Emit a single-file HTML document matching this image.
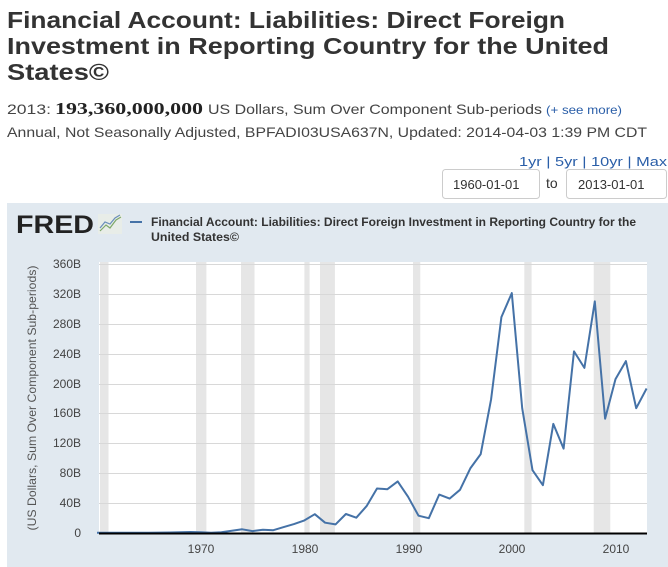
<!DOCTYPE html>
<html><head><meta charset="utf-8"><style>
html,body{margin:0;padding:0;background:#fff;width:668px;height:567px;overflow:hidden}
text{font-family:"Liberation Sans",sans-serif}
</style></head><body>
<svg width="668" height="567" xmlns="http://www.w3.org/2000/svg">
<g fill="#333" font-weight="bold" font-size="23">
<text x="7" y="28" textLength="558" lengthAdjust="spacingAndGlyphs">Financial Account: Liabilities: Direct Foreign</text>
<text x="7" y="54" textLength="602" lengthAdjust="spacingAndGlyphs">Investment in Reporting Country for the United</text>
<text x="7" y="80" textLength="102" lengthAdjust="spacingAndGlyphs">States©</text>
</g>
<text x="7" y="114" font-size="14" fill="#444" textLength="44" lengthAdjust="spacingAndGlyphs">2013:</text>
<text x="55" y="114" font-size="17" font-weight="bold" fill="#222" font-family="Liberation Serif" style="font-family:'Liberation Serif',serif" textLength="148" lengthAdjust="spacingAndGlyphs">193,360,000,000</text>
<text x="208" y="114" font-size="14" fill="#444" textLength="334" lengthAdjust="spacingAndGlyphs">US Dollars, Sum Over Component Sub-periods</text>
<text x="546" y="114" font-size="12" fill="#2a5ea8" textLength="76" lengthAdjust="spacingAndGlyphs">(+ see more)</text>
<text x="7" y="137" font-size="14" fill="#444" textLength="640" lengthAdjust="spacingAndGlyphs">Annual, Not Seasonally Adjusted, BPFADI03USA637N, Updated: 2014-04-03 1:39 PM CDT</text>
<text x="519" y="166" font-size="13" fill="#2a5ea8" textLength="148" lengthAdjust="spacingAndGlyphs">1yr | 5yr | 10yr | Max</text>
<rect x="442.5" y="169.5" width="97" height="29" rx="3" fill="#fff" stroke="#ccc"/>
<text x="453" y="189" font-size="13" fill="#333">1960-01-01</text>
<text x="546" y="188" font-size="14" fill="#333">to</text>
<rect x="566.5" y="169.5" width="100" height="29" rx="3" fill="#fff" stroke="#ccc"/>
<text x="578" y="189" font-size="13" fill="#333">2013-01-01</text>
<rect x="7" y="203" width="661" height="364" fill="#e1e9f0"/>
<text x="16" y="233" font-size="25" font-weight="900" fill="#222" textLength="78" lengthAdjust="spacingAndGlyphs">FRED</text>
<rect x="98" y="214" width="24" height="20" fill="#e8ede8"/>
<polyline points="100,231 106,225 110,228 116,220 121,217" fill="none" stroke="#7ea86a" stroke-width="1.2"/>
<polyline points="100,228 105,222 110,224 115,218 120,215" fill="none" stroke="#6a8fba" stroke-width="1.2"/>
<line x1="130" y1="222" x2="142" y2="222" stroke="#4572a7" stroke-width="2"/>
<text x="151" y="226" font-size="12" fill="#333" font-weight="bold" textLength="485" lengthAdjust="spacingAndGlyphs">Financial Account: Liabilities: Direct Foreign Investment in Reporting Country for the</text>
<text x="151" y="241" font-size="12" fill="#333" font-weight="bold" textLength="88" lengthAdjust="spacingAndGlyphs">United States©</text>
<rect x="99" y="262" width="548" height="271" fill="#fff"/>
<g fill="#e6e6e6">
<rect x="100" y="262" width="8.5" height="271"/>
<rect x="196" y="262" width="10.4" height="271"/>
<rect x="241" y="262" width="13.5" height="271"/>
<rect x="304.4" y="262" width="5.2" height="271"/>
<rect x="320" y="262" width="14.9" height="271"/>
<rect x="413" y="262" width="7.3" height="271"/>
<rect x="524.3" y="262" width="7.3" height="271"/>
<rect x="593.7" y="262" width="16.6" height="271"/>
</g>
<g stroke="#d8d8d8" stroke-width="1">
<line x1="99" x2="647" y1="264.5" y2="264.5"/><line x1="99" x2="647" y1="294.5" y2="294.5"/>
<line x1="99" x2="647" y1="324.5" y2="324.5"/><line x1="99" x2="647" y1="354.5" y2="354.5"/>
<line x1="99" x2="647" y1="384.5" y2="384.5"/><line x1="99" x2="647" y1="413.5" y2="413.5"/>
<line x1="99" x2="647" y1="443.5" y2="443.5"/><line x1="99" x2="647" y1="473.5" y2="473.5"/>
<line x1="99" x2="647" y1="503.5" y2="503.5"/>
</g>
<g font-size="12" fill="#444" text-anchor="end">
<text x="81" y="268">360B</text><text x="81" y="298">320B</text><text x="81" y="328">280B</text>
<text x="81" y="358">240B</text><text x="81" y="388">200B</text><text x="81" y="417">160B</text>
<text x="81" y="447">120B</text><text x="81" y="477">80B</text><text x="81" y="507">40B</text>
<text x="81" y="537">0</text>
</g>
<text transform="translate(36,398) rotate(-90)" font-size="12" fill="#555" text-anchor="middle" textLength="265" lengthAdjust="spacingAndGlyphs">(US Dollars, Sum Over Component Sub-periods)</text>
<g font-size="12" fill="#444" text-anchor="middle">
<text x="201" y="553">1970</text><text x="305" y="553">1980</text><text x="409" y="553">1990</text>
<text x="512" y="553">2000</text><text x="616" y="553">2010</text>
</g>
<polyline fill="none" stroke="#4572a7" stroke-width="2" stroke-linejoin="round" points="97,532.8 107.4,532.8 117.7,532.8 128.1,532.8 138.5,532.8 148.9,532.7 159.2,532.6 169.6,532.5 180,532.3 190.3,532 200.7,532.2 211.1,532.8 221.4,532.3 231.8,530.8 242.2,529.3 252.6,531.1 262.9,529.8 273.3,530.2 283.7,527.1 294,524.1 304.4,520.4 314.8,514.2 325.1,522.7 335.5,524.4 345.9,514 356.3,517.7 366.6,506.1 377,488.5 387.4,489.2 397.7,481.4 408.1,496.8 418.5,515.7 428.8,518.2 439.2,494.6 449.6,498.6 460,489.8 470.3,468.4 480.7,454.1 491.1,399.3 501.4,317.1 511.8,293.1 522.2,408.2 532.5,470.2 542.9,485.2 553.3,423.9 563.6,448.6 574,351.4 584.4,367.9 594.8,301.4 605.1,418.7 615.5,379.1 625.9,361.1 636.2,408.2 646.6,388.5"/>
<line x1="99" x2="647" y1="533.5" y2="533.5" stroke="#000" stroke-width="2"/>
</svg>
</body></html>
